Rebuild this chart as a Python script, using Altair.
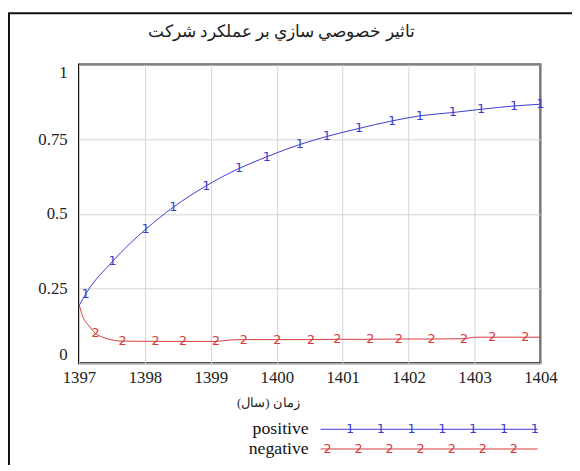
import altair as alt
import pandas as pd

title_text = "تاثير خصوصي سازي بر عملكرد شركت"
x_axis_title = "زمان (سال)"
series_names = ["positive", "negative"]
series_marks = ["1", "2"]

x_ticks = [1397, 1398, 1399, 1400, 1401, 1402, 1403, 1404]
y_ticks = [0, 0.25, 0.5, 0.75, 1]

pos_years = [1397.0, 1397.10, 1397.51, 1398.01, 1398.43, 1398.93, 1399.43, 1399.85,
             1400.35, 1400.76, 1401.25, 1401.75, 1402.17, 1402.67, 1403.10, 1403.60, 1404.0]
pos_values = [0.192, 0.231, 0.341, 0.448, 0.522, 0.594, 0.652, 0.691,
              0.732, 0.759, 0.786, 0.811, 0.828, 0.839, 0.850, 0.861, 0.867]
pos_marker_idx = list(range(1, 17))

neg_years = [1397.0, 1397.05, 1397.15, 1397.25, 1397.4, 1397.55, 1397.66, 1398.16, 1398.58,
             1399.08, 1399.25, 1399.50, 1400.01, 1400.52, 1400.92, 1401.42, 1401.85,
             1402.35, 1402.84, 1403.0, 1403.27, 1403.77, 1404.0]
neg_values = [0.198, 0.16, 0.125, 0.100, 0.084, 0.076, 0.074, 0.073, 0.073,
              0.073, 0.077, 0.079, 0.079, 0.079, 0.080, 0.080, 0.081,
              0.081, 0.082, 0.087, 0.087, 0.087, 0.087]
neg_marker_idx = [3, 6, 7, 8, 9, 11, 12, 13, 14, 15, 16, 17, 18, 20, 21]

BLUE = "#3b3bd0"
RED = "#d63a3a"
SERIF = "Liberation Serif"

pos_df = pd.DataFrame({"year": pos_years, "value": pos_values})
neg_df = pd.DataFrame({"year": neg_years, "value": neg_values})
pos_mk = pos_df.iloc[pos_marker_idx].assign(mk=series_marks[0])
neg_mk = neg_df.iloc[neg_marker_idx].assign(mk=series_marks[1])

xscale = alt.Scale(domain=[1397, 1404], nice=False, zero=False)
yscale = alt.Scale(domain=[0, 1], nice=False)

xaxis = alt.Axis(values=x_ticks, format="d", grid=True, ticks=False,
                 labelFont=SERIF, labelFontSize=17,
                 domain=False, labelPadding=7, title=None, labelFlush=False)
yaxis = alt.Axis(values=y_ticks, format=".2~f", grid=True, ticks=False,
                 labelFont=SERIF, labelFontSize=17,
                 domain=False, labelPadding=12, title=None, labelFlush=True)

X = alt.X("year:Q", scale=xscale, axis=xaxis)
Y = alt.Y("value:Q", scale=yscale, axis=yaxis)

pos_line = alt.Chart(pos_df).mark_line(color=BLUE, strokeWidth=1, interpolate="monotone").encode(x=X, y=Y)
neg_line = alt.Chart(neg_df).mark_line(color=RED, strokeWidth=1, interpolate="monotone").encode(x=X, y=Y)
pos_text = alt.Chart(pos_mk).mark_text(color=BLUE, fontSize=13, font="DejaVu Sans").encode(
    x=X, y=Y, text="mk:N")
neg_text = alt.Chart(neg_mk).mark_text(color=RED, fontSize=13, font="DejaVu Sans").encode(
    x=X, y=Y, text="mk:N")

# title and axis title
title = alt.Chart(pd.DataFrame({"t": [title_text]})).mark_text(
    fontSize=17, font=SERIF, color="#222").encode(
    x=alt.value(205), y=alt.value(-33), text="t:N")
xtitle = alt.Chart(pd.DataFrame({"t": [x_axis_title]})).mark_text(
    fontSize=13, font=SERIF, color="#222").encode(
    x=alt.value(192), y=alt.value(343), text="t:N")

# outer frame
frame = alt.Chart(pd.DataFrame({"a": [0]})).mark_rect(
    fill=None, stroke="#111", strokeWidth=2).encode(
    x=alt.value(-71), x2=alt.value(520), y=alt.value(-52), y2=alt.value(430))

# legend
leg_df = pd.DataFrame({"name": series_names, "py": [370, 390]})
leg_text = alt.Chart(leg_df).mark_text(align="right", fontSize=18, font=SERIF, color="#111").encode(
    x=alt.value(233), y=alt.Y("py:Q", scale=None), text="name:N")
leg_lines = alt.Chart(leg_df).mark_rule(strokeWidth=1).encode(
    x=alt.value(245), x2=alt.value(465), y=alt.Y("py:Q", scale=None),
    color=alt.Color("name:N", scale=alt.Scale(domain=series_names, range=[BLUE, RED]), legend=None))
leg_mk_df = pd.DataFrame({
    "px": [275 + 31.2 * i for i in range(7)] + [252 + 31.5 * i for i in range(7)],
    "py": [370] * 7 + [390] * 7,
    "mk": [series_marks[0]] * 7 + [series_marks[1]] * 7,
})
leg_marks = alt.Chart(leg_mk_df).mark_text(fontSize=13, font="DejaVu Sans").encode(
    x=alt.X("px:Q", scale=None), y=alt.Y("py:Q", scale=None), text="mk:N",
    color=alt.Color("mk:N", scale=alt.Scale(domain=series_marks, range=[BLUE, RED]), legend=None))

chart = alt.layer(
    pos_line, neg_line, pos_text, neg_text, title, xtitle, frame, leg_lines, leg_text, leg_marks
).properties(
    width=468, height=303,
    autosize=alt.AutoSizeParams(type="none"),
    padding={"left": 72, "top": 54, "right": 32, "bottom": 100},
    background="white",
).configure(
    font=SERIF, style={"guide-label": {"font": SERIF, "fontSize": 17}}
).configure_view(stroke="#111", strokeWidth=2).configure_axis(
    labelFont=SERIF, labelFontSize=17, labelColor="#222", gridColor="#d4d4d4"
)

chart.save("out.html", embed_options={"renderer": "svg", "actions": False})
